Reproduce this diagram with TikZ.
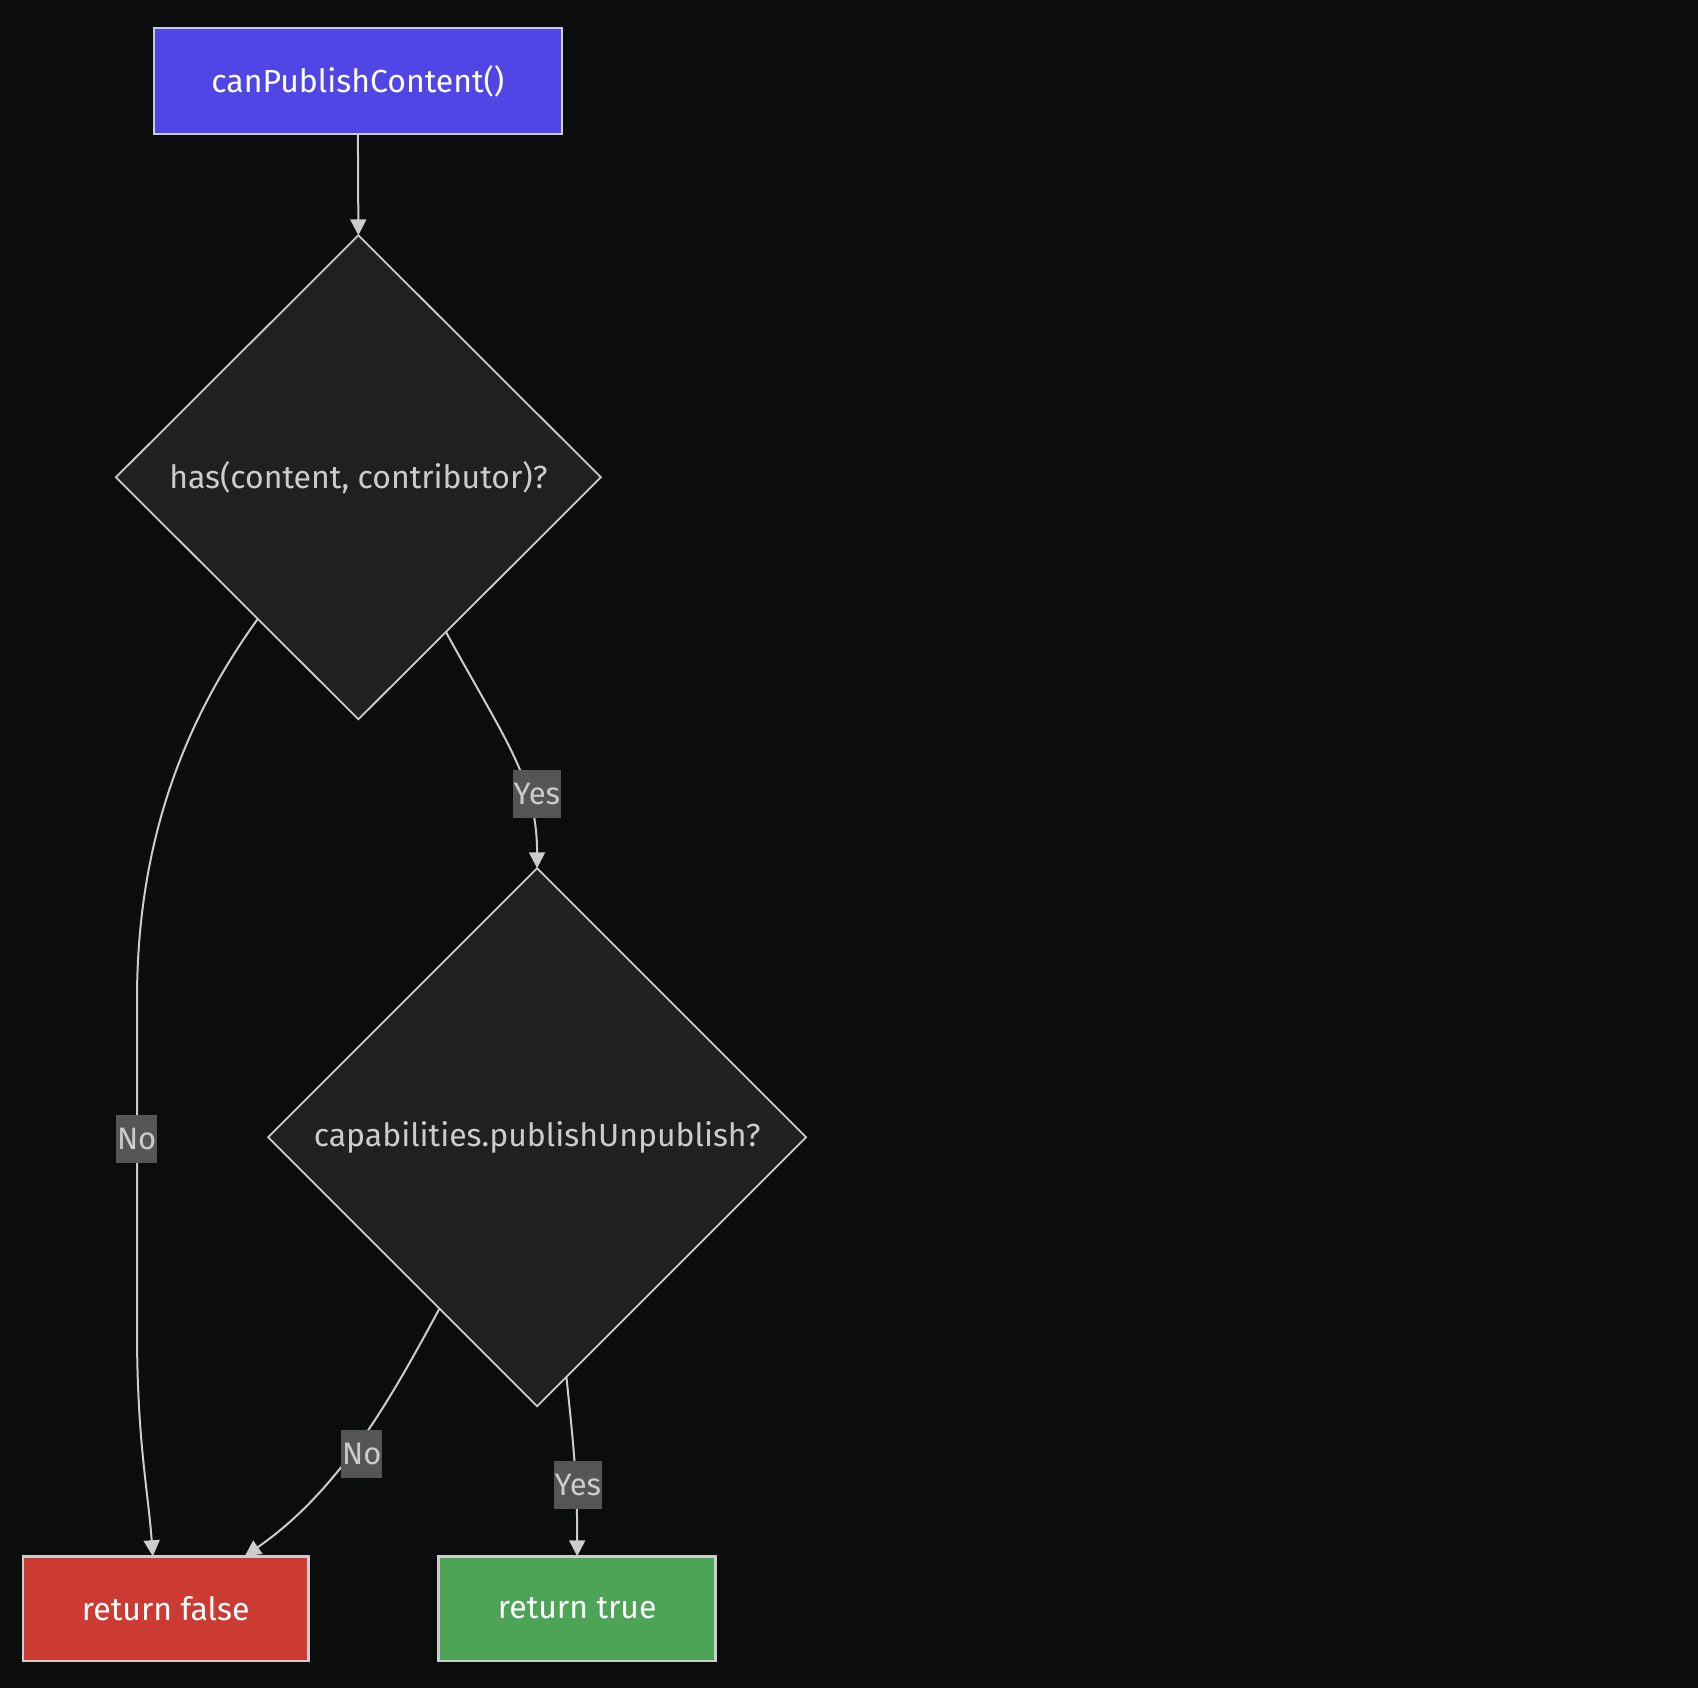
\documentclass[tikz,border=0pt]{standalone}
\usepackage{fontspec}
\setmainfont{Fira Sans}
\usetikzlibrary{shapes.geometric,arrows.meta,calc}
\definecolor{bg}{HTML}{0B0D0D}
\definecolor{edgec}{HTML}{CCCCCC}
\definecolor{indigof}{HTML}{4F46E5}
\definecolor{dfill}{HTML}{1F2020}
\definecolor{redf}{HTML}{CC3B33}
\definecolor{greenf}{HTML}{4DA356}
\definecolor{lblbg}{HTML}{555555}
\tikzset{
  boxnode/.style={draw=edgec, line width=2.5pt, text=white, inner sep=0pt, outer sep=0pt},
  decision/.style={diamond, aspect=1, draw=edgec, line width=1.8pt, fill=dfill, text=edgec, inner sep=0pt, outer sep=0pt},
  edge/.style={draw=edgec, line width=2pt, -{Triangle[length=16pt,width=16pt]}},
  lbl/.style={fill=lblbg, text=edgec, inner xsep=1pt, inner ysep=0pt, minimum height=48pt, font=\fontsize{31}{36}\selectfont},
}
\begin{document}
\begin{tikzpicture}[x=1pt,y=-1pt,font=\fontsize{32}{38}\selectfont]
\fill[bg] (0,0) rectangle (1698,1688);
\useasboundingbox (0,0) rectangle (1698,1688);

\node[boxnode, fill=indigof, minimum width=408, minimum height=106] (start) at (357.9,81.2) {canPublishContent()};
\node[decision, minimum width=485, minimum height=484] (d1) at (358.4,477.3) {has(content, contributor)?};
\node[decision, minimum width=538, minimum height=538] (d2) at (537.1,1137.3) {capabilities.publishUnpublish?};
\node[boxnode, fill=redf, minimum width=285.5, minimum height=104.5] (rfalse) at (165.7,1608.5) {return false};
\node[boxnode, fill=greenf, minimum width=277, minimum height=104.5] (rtrue) at (577.2,1608.5) {return true};

\draw[edge] (start.south) -- (d1.north);
\draw[edge] ($(d1.east)!0.639!(d1.south)$) .. controls (505,740) and (537,780) .. (d2.north);
\draw[edge] ($(d1.south)!0.415!(d1.west)$) .. controls (185,720) and (137,840) .. (137,1000) -- (137,1330) .. controls (137,1440) and (148,1490) .. ($(rfalse.north west)!0.455!(rfalse.north east)$);
\draw[edge] ($(d2.south)!0.363!(d2.west)$) .. controls (390,1400) and (340,1490) .. ($(rfalse.north west)!0.777!(rfalse.north east)$);
\draw[edge] ($(d2.south)!0.109!(d2.east)$) .. controls (574,1450) and (577.2,1480) .. (rtrue.north);

\node[lbl] (ly1) at (536.8,794) {Yes};
\node[lbl] (ln1) at (136.7,1139) {No};
\node[lbl] (ln2) at (361.8,1454) {No};
\node[lbl] (ly2) at (577.8,1484.5) {Yes};
\end{tikzpicture}
\end{document}
